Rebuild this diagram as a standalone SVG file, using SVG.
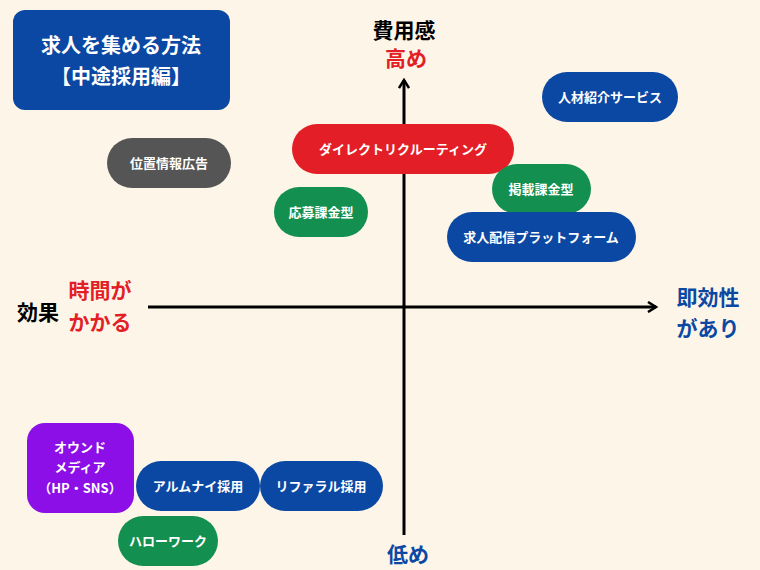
<svg xmlns="http://www.w3.org/2000/svg" width="760" height="570" viewBox="0 0 760 570">
<style>
text{font-family:"Noto Sans CJK JP","Noto Sans",sans-serif;font-weight:bold;text-anchor:middle}
.n{fill:#fff;font-size:13px}
.b{fill:#0b48a3}.r{fill:#e31e26}.g{fill:#13904f}.k{fill:#555}.p{fill:#8b0fe6}
.ax{stroke:#000;stroke-width:3;fill:none}
.lb{font-size:21px}
</style>
<defs><marker id="ah" viewBox="0 0 12 12" refX="10" refY="6" markerWidth="12" markerHeight="12" markerUnits="userSpaceOnUse" orient="auto"><path d="M2,1 L10,6 L2,11" fill="none" stroke="#000" stroke-width="2.5"/></marker></defs>
<rect width="760" height="570" fill="#fdf6e8"/>
<g id="connectors">
<line class="ax" x1="404" y1="535" x2="404" y2="80" marker-end="url(#ah)"/>
<line class="ax" x1="148" y1="307" x2="656" y2="307" marker-end="url(#ah)"/>
</g>
<g id="title"><rect x="13" y="10" width="217" height="100" rx="12" class="b"/><text x="121" y="53" fill="#fff" font-size="20">求人を集める方法</text><text x="121" y="84" fill="#fff" font-size="20">【中途採用編】</text></g>
<g id="jinzai"><rect x="542" y="72" width="136" height="50" rx="25" class="b"/><text class="n" x="610" y="102">人材紹介サービス</text></g>
<g id="direct"><rect x="292" y="124" width="222" height="50" rx="25" class="r"/><text class="n" x="403" y="154">ダイレクトリクルーティング</text></g>
<g id="ichi"><rect x="107" y="138" width="124" height="50" rx="25" class="k"/><text class="n" x="169" y="168">位置情報広告</text></g>
<g id="keisai"><rect x="492" y="164" width="99" height="50" rx="25" class="g"/><text class="n" x="541" y="194">掲載課金型</text></g>
<g id="oubo"><rect x="274" y="187" width="94" height="50" rx="25" class="g"/><text class="n" x="321" y="217">応募課金型</text></g>
<g id="haishin"><rect x="447" y="212" width="189" height="50" rx="25" class="b"/><text class="n" x="541" y="242">求人配信プラットフォーム</text></g>
<g id="owned"><rect x="27" y="423" width="107" height="90" rx="18" class="p"/><text class="n" x="80" y="452">オウンド</text><text class="n" x="80" y="472">メディア</text><text class="n" x="80" y="493">（HP・SNS）</text></g>
<g id="alumni"><rect x="136" y="461" width="124" height="50" rx="25" class="b"/><text class="n" x="198" y="491">アルムナイ採用</text></g>
<g id="referral"><rect x="260" y="461" width="123" height="50" rx="25" class="b"/><text class="n" x="321" y="491">リファラル採用</text></g>
<g id="hello"><rect x="118" y="516" width="100" height="50" rx="25" class="g"/><text class="n" x="168" y="546">ハローワーク</text></g>
<g id="labels">
<text class="lb" x="404" y="38" fill="#000">費用感</text>
<text class="lb" x="406" y="66" fill="#e31e26">高め</text>
<text class="lb" x="408" y="562" fill="#0b48a3">低め</text>
<text class="lb" x="38" y="320" fill="#000">効果</text>
<text class="lb" x="100" y="298" fill="#e31e26">時間が</text>
<text class="lb" x="100" y="330" fill="#e31e26">かかる</text>
<text class="lb" x="708" y="305" fill="#0b48a3">即効性</text>
<text class="lb" x="708" y="336" fill="#0b48a3">があり</text>
</g>
</svg>
